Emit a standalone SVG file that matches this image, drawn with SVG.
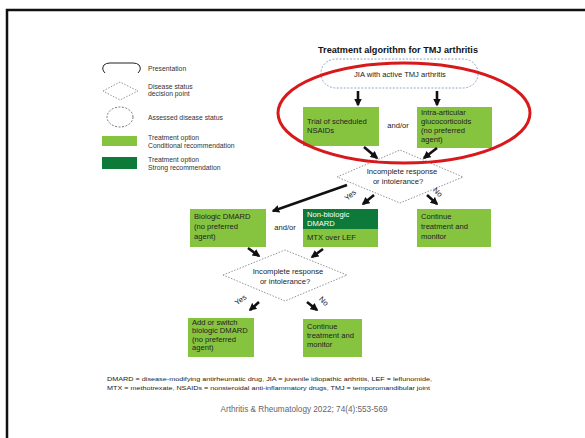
<svg xmlns="http://www.w3.org/2000/svg" width="585" height="438" viewBox="0 0 585 438">
<defs>
<marker id="ah" viewBox="0 0 10 10" refX="8" refY="5" markerWidth="3" markerHeight="3" orient="auto" markerUnits="strokeWidth">
<path d="M0,0 L10,5 L0,10 z" fill="#111"/>
</marker>
<style>
.t{font-family:"Liberation Sans",Arial,sans-serif;font-size:7.6px;fill:#222}
.tw{font-family:"Liberation Sans",Arial,sans-serif;font-size:7.6px;fill:#fff}
.lg{font-family:"Liberation Sans",Arial,sans-serif;font-size:6.8px;fill:#333}
.lb{fill:#86c440}
.db{fill:#0e7a3a}
.dia{fill:none;stroke:#888;stroke-width:0.9;stroke-dasharray:1.5 1.5}
.ar{stroke:#111;stroke-width:2.6;fill:none;marker-end:url(#ah)}
.fn{font-family:"Liberation Sans",Arial,sans-serif;font-size:6.2px;fill:#222}
</style>
</defs>
<rect width="585" height="438" fill="#fff"/>
<path d="M7,438 V10 H585" fill="none" stroke="#111" stroke-width="2.5"/>

<text x="398" y="53" text-anchor="middle" font-family="Liberation Sans,Arial,sans-serif" font-size="8.5" font-weight="bold" fill="#111" textLength="160" lengthAdjust="spacingAndGlyphs">Treatment algorithm for TMJ arthritis</text>

<g id="legend">
<path d="M105,73 Q101,69 104,65 Q106,63 110,63 H133 Q137,63 139,65 Q142,69 138,73" fill="none" stroke="#222" stroke-width="1"/>
<text class="lg" x="148" y="71">Presentation</text>
<polygon class="dia" points="103,91 120,82 138,91 120,100"/>
<text class="lg" x="148" y="89">Disease status</text>
<text class="lg" x="148" y="96">decision point</text>
<ellipse cx="120" cy="117" rx="13" ry="10" fill="none" stroke="#666" stroke-width="0.9" stroke-dasharray="2 1.5"/>
<text class="lg" x="148" y="120">Assessed disease status</text>
<rect class="lb" x="102" y="136" width="35" height="10"/>
<text class="lg" x="148" y="140">Treatment option</text>
<text class="lg" x="148" y="148">Conditional recommendation</text>
<rect class="db" x="102" y="157" width="35" height="12"/>
<text class="lg" x="148" y="162">Treatment option</text>
<text class="lg" x="148" y="170">Strong recommendation</text>
</g>

<g id="presentation">
<rect x="321" y="59" width="157" height="29" rx="15" ry="14" fill="none" stroke="#7a93b3" stroke-width="0.8" stroke-dasharray="2 1.5"/>
<text class="t" x="400" y="77" text-anchor="middle">JIA with active TMJ arthritis</text>
</g>

<g id="nsaids">
<rect class="lb" x="303" y="107" width="76" height="39"/>
<text class="t" x="307" y="124">Trial of scheduled</text>
<text class="t" x="307" y="133">NSAIDs</text>
</g>
<text class="t" x="398" y="128" text-anchor="middle">and/or</text>
<g id="iagc">
<rect class="lb" x="417" y="107" width="75" height="41"/>
<text class="t" x="421" y="115">Intra-articular</text>
<text class="t" x="421" y="124">glucocorticoids</text>
<text class="t" x="421" y="133">(no preferred</text>
<text class="t" x="421" y="142">agent)</text>
</g>

<g id="decision1">
<polygon class="dia" points="337,177 400,150 463,177 400,203"/>
<text class="t" x="402" y="174" text-anchor="middle">Incomplete response</text>
<text class="t" x="398" y="184" text-anchor="middle">or intolerance?</text>
</g>

<g id="biologic">
<rect class="lb" x="190" y="209" width="76" height="38"/>
<text class="t" x="194" y="219">Biologic DMARD</text>
<text class="t" x="194" y="229">(no preferred</text>
<text class="t" x="194" y="239">agent)</text>
</g>
<text class="t" x="285" y="230" text-anchor="middle" font-size="6.5">and/or</text>
<g id="nonbiologic">
<rect class="db" x="303" y="209" width="75" height="20"/>
<rect class="lb" x="303" y="229" width="75" height="18"/>
<text class="tw" x="307" y="217">Non-biologic</text>
<text class="tw" x="307" y="226">DMARD</text>
<text class="t" x="307" y="240">MTX over LEF</text>
</g>
<g id="continue1">
<rect class="lb" x="417" y="209" width="74" height="38"/>
<text class="t" x="421" y="219">Continue</text>
<text class="t" x="421" y="229">treatment and</text>
<text class="t" x="421" y="239">monitor</text>
</g>

<g id="decision2">
<polygon class="dia" points="223,275 285,250 347,275 285,301"/>
<text class="t" x="288" y="274" text-anchor="middle">Incomplete response</text>
<text class="t" x="285" y="284" text-anchor="middle">or intolerance?</text>
</g>

<g id="addswitch">
<rect class="lb" x="188" y="318" width="66" height="39"/>
<text class="t" x="192" y="325">Add or switch</text>
<text class="t" x="192" y="333">biologic DMARD</text>
<text class="t" x="192" y="342">(no preferred</text>
<text class="t" x="192" y="350">agent)</text>
</g>
<g id="continue2">
<rect class="lb" x="303" y="319" width="59" height="38"/>
<text class="t" x="307" y="329">Continue</text>
<text class="t" x="307" y="338">treatment and</text>
<text class="t" x="307" y="347">monitor</text>
</g>

<g id="connectors">
<line class="ar" x1="358" y1="91" x2="358" y2="105"/>
<line class="ar" x1="437" y1="91" x2="437" y2="105"/>
<line class="ar" x1="364" y1="147" x2="377" y2="158"/>
<line class="ar" x1="437" y1="148" x2="424" y2="158"/>
<line class="ar" x1="347" y1="185" x2="273" y2="211"/>
<line class="ar" x1="374" y1="195" x2="363" y2="204"/>
<line class="ar" x1="427" y1="195" x2="437" y2="204"/>
<line class="ar" x1="248" y1="248" x2="259" y2="256"/>
<line class="ar" x1="323" y1="249" x2="312" y2="257"/>
<line class="ar" x1="259" y1="302" x2="250" y2="310"/>
<line class="ar" x1="307" y1="302" x2="317" y2="310"/>
<text class="t" font-size="6.5" transform="translate(352,197) rotate(-40)" text-anchor="middle">Yes</text>
<text class="t" font-size="6.5" transform="translate(436,194) rotate(45)" text-anchor="middle">No</text>
<text class="t" font-size="6.5" transform="translate(242,302) rotate(-35)" text-anchor="middle">Yes</text>
<text class="t" font-size="6.5" transform="translate(322,303) rotate(45)" text-anchor="middle">No</text>
</g>

<ellipse cx="404" cy="113" rx="126" ry="50" fill="none" stroke="#d7191c" stroke-width="3"/>

<text class="fn" x="107" y="381" textLength="325" lengthAdjust="spacingAndGlyphs">DMARD = disease-modifying antirheumatic drug, JIA = juvenile idiopathic arthritis, LEF = leflunomide,</text>
<text class="fn" x="107" y="390" textLength="323" lengthAdjust="spacingAndGlyphs">MTX = methotrexate, NSAIDs = nonsteroidal anti-inflammatory drugs, TMJ = temporomandibular joint</text>
<text x="304" y="412" text-anchor="middle" font-family="Liberation Sans,Arial,sans-serif" font-size="8.2" fill="#666">Arthritis &amp; Rheumatology 2022; 74(4):553-569</text>
</svg>
